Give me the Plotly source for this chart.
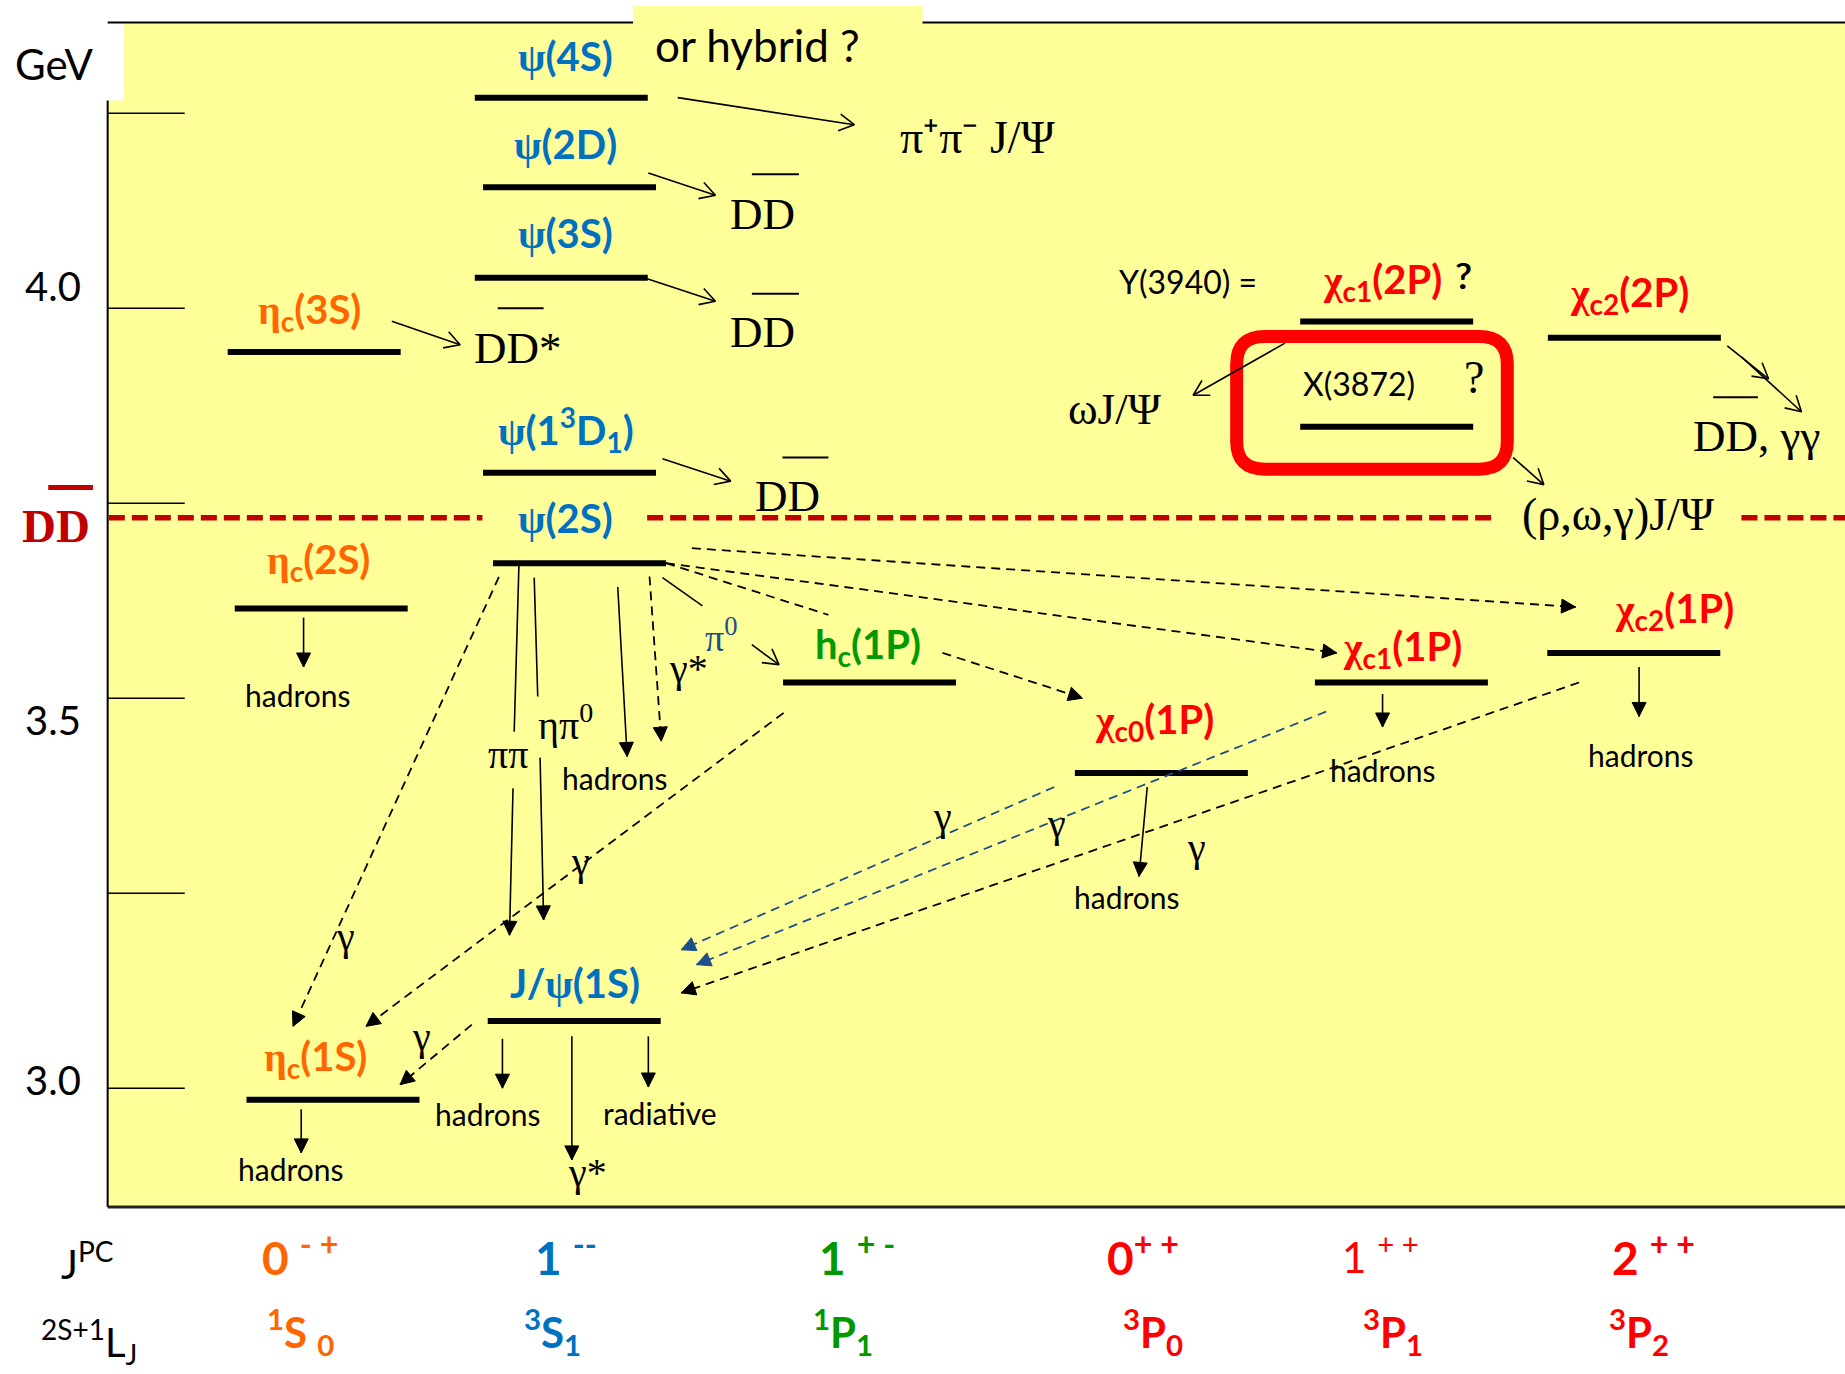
import math
import plotly.graph_objects as go

# ---------------------------------------------------------------------------
# Charmonium level data (masses in GeV, as placed in the level diagram)
# ---------------------------------------------------------------------------
STATES = ["ψ(4S)", "ψ(2D)", "ψ(3S)", "ηc(3S)", "ψ(1³D₁)", "ψ(2S)", "ηc(2S)",
          "hc(1P)", "χc0(1P)", "χc1(1P)", "χc2(1P)", "J/ψ(1S)", "ηc(1S)",
          "χc1(2P)", "X(3872)", "χc2(2P)"]
MASS_GEV = [4.270, 4.155, 4.039, 3.944, 3.789, 3.673, 3.615,
            3.520, 3.404, 3.520, 3.558, 3.086, 2.985,
            3.983, 3.848, 3.962]
DD_THRESHOLD_GEV = 3.7315
TICK_GEV = [4.25, 4.00, 3.75, 3.50, 3.25, 3.00]
TICK_TEXT = ["4.0", "3.5", "3.0"]
JPC_MAIN = ["0", "1", "1", "0", "1", "2"]
JPC_SUP = ["- +", "--", "+ -", "+ +", "+ +", "+ +"]
TERM_MULT = ["1", "3", "1", "3", "3", "3"]
TERM_L = ["S", "S", "P", "P", "P", "P"]
TERM_J = ["0", "1", "1", "0", "1", "2"]

# ---------------------------------------------------------------------------
# Styling / layout
# ---------------------------------------------------------------------------
W, H = 1845, 1374
X_RANGE = [0.0, 1568.0]
Y_RANGE = [2.6335, 4.3952]
SX = W / (X_RANGE[1] - X_RANGE[0])
SY = H / (Y_RANGE[1] - Y_RANGE[0])

YELLOW = "#FFFF99"
BLUE = "#0070C0"
ORANGE = "#FF6600"
GREEN = "#009A00"
RED = "#FF0000"
DARK_RED = "#C00000"
NAVY = "#1F4E8C"
SANS = "Lato, Open Sans, sans-serif"
SERIF = "Liberation Serif, Times New Roman, serif"

COLUMN_COLORS = [ORANGE, BLUE, GREEN, RED, RED, RED]
JPC_BOLD = [True, True, True, True, False, True]
JPC_LEFT_X = [221, 453, 694, 939, 1139, 1368]
TERM_LEFT_X = [225, 444, 689, 953, 1157, 1366]
JPC_ROW_GEV = 2.7873
TERM_ROW_GEV = 2.6878

BAR_HALF = 73.5
LEVEL_X = {"ψ(4S)": 477, "ψ(2D)": 484, "ψ(3S)": 477, "ηc(3S)": 267,
           "ψ(1³D₁)": 484, "ψ(2S)": 492.5, "ηc(2S)": 273, "hc(1P)": 739,
           "χc0(1P)": 987, "χc1(1P)": 1191, "χc2(1P)": 1388.5,
           "J/ψ(1S)": 488, "ηc(1S)": 283, "χc1(2P)": 1178.5,
           "X(3872)": 1178.5, "χc2(2P)": 1389}


def greek(ch):
    return f"<span style='font-family:Liberation Serif'>{ch}</span>"


# name label html, colour, (dx, dm) placement relative to the level bar
LABELS = {
    "ψ(4S)": (f"{greek('ψ')}(4S)", BLUE, 3.5, 0.0535),
    "ψ(2D)": (f"{greek('ψ')}(2D)", BLUE, -3.5, 0.055),
    "ψ(3S)": (f"{greek('ψ')}(3S)", BLUE, 4, 0.0573),
    "ηc(3S)": (f"{greek('η')}<sub>c</sub>(3S)", ORANGE, -4, 0.0513),
    "ψ(1³D₁)": (f"{greek('ψ')}(1<sup>3</sup>D<sub>1</sub>)", BLUE, -3, 0.0551),
    "ψ(2S)": (f"{greek('ψ')}(2S)", BLUE, -12, 0.058),
    "ηc(2S)": (f"{greek('η')}<sub>c</sub>(2S)", ORANGE, -2, 0.0603),
    "hc(1P)": ("h<sub>c</sub>(1P)", GREEN, -1.5, 0.046),
    "χc0(1P)": (f"{greek('χ')}<sub>c0</sub>(1P)", RED, -6, 0.0664),
    "χc1(1P)": (f"{greek('χ')}<sub>c1</sub>(1P)", RED, 1, 0.0437),
    "χc2(1P)": (f"{greek('χ')}<sub>c2</sub>(1P)", RED, 34.5, 0.0543),
    "J/ψ(1S)": (f"J/{greek('ψ')}(1S)", BLUE, 1, 0.0487),
    "ηc(1S)": (f"{greek('η')}<sub>c</sub>(1S)", ORANGE, -15, 0.0536),
    "χc1(2P)": (f"{greek('χ')}<sub>c1</sub>(2P)", RED, -3.5, 0.0517),
    "χc2(2P)": (f"{greek('χ')}<sub>c2</sub>(2P)", RED, -4, 0.055),
}

# decay / transition arrows: (x0, m0, x1, m1, kind)
DECAYS = [
    # open-headed decays above threshold
    (576, 4.2700, 726, 4.2353, "open"),
    (551, 4.1735, 608, 4.1448, "open"),
    (550, 4.0377, 608, 4.0090, "open"),
    (333, 3.9834, 391, 3.9532, "open"),
    (563, 3.8069, 621, 3.7783, "open"),
    (1092, 3.9552, 1014, 3.8884, "open"),
    (1286, 3.8085, 1312, 3.7738, "open"),
    (1468, 3.9517, 1503, 3.9095, "open"),
    (1480, 3.9376, 1531, 3.8673, "open"),
    (639, 3.5686, 662, 3.5430, "open"),
    # bare line pieces
    (563, 3.6546, 597, 3.6184, "plain"),
    (441, 3.6697, 437, 3.4570, "plain"),
    (454, 3.6546, 457, 3.5023, "plain"),
    # solid arrows with filled heads
    (436, 3.3846, 433, 3.1961, "solid"),
    (459, 3.4238, 462, 3.2157, "solid"),
    (525, 3.6425, 533, 3.4253, "solid"),
    (258, 3.6033, 258, 3.5400, "solid"),
    (1175, 3.5053, 1175, 3.4631, "solid"),
    (1393, 3.5400, 1393, 3.4766, "solid"),
    (975, 3.3861, 968, 3.2715, "solid"),
    (427, 3.0633, 427, 3.0000, "solid"),
    (486, 3.0664, 486, 2.9080, "solid"),
    (551, 3.0664, 551, 3.0015, "solid"),
    (256, 2.9729, 256, 2.9170, "solid"),
    # radiative (dashed) transitions
    (552, 3.6561, 562, 3.4449, "dash"),
    (424, 3.6554, 249, 3.0792, "dash"),
    (666, 3.4812, 311, 3.0792, "dash"),
    (401, 3.0815, 340, 3.0045, "dash"),
    (566, 3.6732, 1136, 3.5581, "dash"),
    (588, 3.6923, 1339, 3.6169, "dash"),
    (801, 3.5581, 920, 3.5000, "dash"),
    (1342, 3.5201, 579, 3.1222, "dash"),
    (566, 3.6732, 704, 3.6068, "dash_plain"),
    (896, 3.3861, 579, 3.1774, "blue"),
    (1127, 3.4827, 592, 3.1584, "blue"),
]

# free text: (html, x, m, size, colour, family)
TEXTS = [
    ("or hybrid ?", 644, 4.3379, 44, "black", SANS),
    ("π⁺π⁻ J/Ψ", 831, 4.2190, 46, "black", SERIF),
    ("DD", 648, 4.1207, 45, "black", SERIF),
    ("DD", 648, 3.9698, 45, "black", SERIF),
    ("DD*", 440, 3.9487, 45, "black", SERIF),
    ("DD", 669, 3.7594, 45, "black", SERIF),
    ("ωJ/Ψ", 948, 3.8710, 45, "black", SERIF),
    ("DD, γγ", 1493, 3.8356, 45, "black", SERIF),
    ("(ρ,ω,γ)J/Ψ", 1375, 3.7360, 46, "black", SERIF),
    ("Y(3940) =", 1010, 4.0339, 32, "black", SANS),
    ("?", 1243, 4.0422, 36, "black", SANS),
    ("X(3872)", 1155, 3.9041, 32, "black", SANS),
    ("?", 1253, 3.9115, 46, "black", SERIF),
    ("hadrons", 253.5, 3.5038, 30, "black", SANS),
    ("hadrons", 523, 3.3982, 30, "black", SANS),
    ("hadrons", 1175, 3.4080, 30, "black", SANS),
    ("hadrons", 1395, 3.4274, 30, "black", SANS),
    ("hadrons", 957.5, 3.2449, 30, "black", SANS),
    ("hadrons", 415, 2.9671, 30, "black", SANS),
    ("hadrons", 247, 2.8966, 30, "black", SANS),
    ("radiative", 560.5, 2.9683, 30, "black", SANS),
    ("γ*", 499, 2.8922, 40, "black", SERIF),
    ("γ*", 585, 3.5380, 40, "black", SERIF),
    ("ππ", 431.5, 3.4276, 40, "black", SERIF),
    ("ηπ<sup>0</sup>", 481, 3.4691, 40, "black", SERIF),
    ("π<sup>0</sup>", 613, 3.5807, 38, NAVY, SERIF),
    ("γ", 294, 3.1946, 40, "black", SERIF),
    ("γ", 493, 3.2911, 40, "black", SERIF),
    ("γ", 358, 3.0664, 40, "black", SERIF),
    ("γ", 801, 3.3484, 40, "black", SERIF),
    ("γ", 897.5, 3.3394, 40, "black", SERIF),
    ("γ", 1017, 3.3092, 40, "black", SERIF),
    ("GeV", 45.5, 4.3137, 42, "black", SANS),
    ("<b>DD</b>", 47.5, 3.7210, 47, DARK_RED, SERIF),
]

# bars drawn over the anti-D in "DD̄": (x0, x1, m, colour, width)
OVERBARS = [
    (639, 679, 4.1719, "black", 2),
    (639, 679, 4.0187, "black", 2),
    (423, 462, 4.0000, "black", 2),
    (665, 704, 3.8085, "black", 2),
    (1456, 1494, 3.8858, "black", 2),
    (41, 79, 3.7702, DARK_RED, 5),
]
TICK_TEXT_GEV = [4.0287, 3.4721, 3.0106]

FRAME_LEFT, FRAME_TOP, FRAME_BOTTOM = 91.5, 4.3665, 2.8477
GEV_BOX_BOTTOM = 4.2662

fig = go.Figure()

# ---------------------------------------------------------------------------
# Background panel, frame and axis ticks
# ---------------------------------------------------------------------------
shapes = [
    dict(type="rect", x0=FRAME_LEFT, x1=1600, y0=FRAME_BOTTOM, y1=FRAME_TOP,
         fillcolor=YELLOW, line_width=0, layer="below"),
    dict(type="rect", x0=538, x1=784, y0=4.350, y1=4.3876,
         fillcolor=YELLOW, line_width=0, layer="below"),
    dict(type="rect", x0=0, x1=105, y0=GEV_BOX_BOTTOM, y1=FRAME_TOP,
         fillcolor="white", line_width=0, layer="below"),
    dict(type="line", x0=FRAME_LEFT, x1=538, y0=FRAME_TOP, y1=FRAME_TOP,
         line=dict(color="black", width=2), layer="below"),
    dict(type="line", x0=784, x1=1600, y0=FRAME_TOP, y1=FRAME_TOP,
         line=dict(color="black", width=2), layer="below"),
    dict(type="line", x0=FRAME_LEFT, x1=FRAME_LEFT, y0=GEV_BOX_BOTTOM, y1=FRAME_BOTTOM,
         line=dict(color="black", width=2), layer="below"),
    dict(type="line", x0=FRAME_LEFT, x1=1600, y0=FRAME_BOTTOM, y1=FRAME_BOTTOM,
         line=dict(color="#222222", width=3), layer="below"),
]
for t in TICK_GEV:
    shapes.append(dict(type="line", x0=FRAME_LEFT, x1=157, y0=t, y1=t,
                       line=dict(color="black", width=1.5), layer="below"))

# rounded red frame around X(3872)
xc = LEVEL_X["X(3872)"]
mx = MASS_GEV[STATES.index("X(3872)")]
bx0, bx1 = xc - 127.5, xc + 102.5
by0, by1 = mx - 0.0543, mx + 0.1158
rx, ry = 28 / SX, 28 / SY
box_path = (f"M {bx0 + rx},{by1} L {bx1 - rx},{by1} Q {bx1},{by1} {bx1},{by1 - ry} "
            f"L {bx1},{by0 + ry} Q {bx1},{by0} {bx1 - rx},{by0} "
            f"L {bx0 + rx},{by0} Q {bx0},{by0} {bx0},{by0 + ry} "
            f"L {bx0},{by1 - ry} Q {bx0},{by1} {bx0 + rx},{by1} Z")
shapes.append(dict(type="path", path=box_path, line=dict(color=RED, width=13),
                   fillcolor="rgba(0,0,0,0)", layer="below"))

for s in shapes:
    s.setdefault("xref", "x")
    s.setdefault("yref", "y")


def lines(xs, ys, color, width, dash="solid", fill=None):
    fig.add_trace(go.Scatter(x=xs, y=ys, mode="lines",
                             line=dict(color=color, width=width, dash=dash),
                             fill=fill, fillcolor=color if fill else None,
                             hoverinfo="skip", showlegend=False))


def head(store, x0, y0, x1, y1, length, half, closed):
    dx = (x1 - x0) * SX
    dy = (y1 - y0) * SY
    n = math.hypot(dx, dy)
    ux, uy = dx / n, dy / n
    lx = x1 + (-ux * length - uy * half) / SX
    ly = y1 + (-uy * length + ux * half) / SY
    rxx = x1 + (-ux * length + uy * half) / SX
    ryy = y1 + (-uy * length - ux * half) / SY
    xs = [lx, x1, rxx] + ([lx] if closed else []) + [None]
    ys = [ly, y1, ryy] + ([ly] if closed else []) + [None]
    store[0].extend(xs)
    store[1].extend(ys)


# D D-bar threshold
thr_x, thr_y = [], []
for a, b in [(FRAME_LEFT + 1, 410), (550, 1270), (1480, 1600)]:
    thr_x += [a, b, None]
    thr_y += [DD_THRESHOLD_GEV, DD_THRESHOLD_GEV, None]
lines(thr_x, thr_y, DARK_RED, 5.5, dash="16px,7px")

# energy levels
lev_x, lev_y = [], []
for name, m in zip(STATES, MASS_GEV):
    c = LEVEL_X[name]
    lev_x += [c - BAR_HALF, c + BAR_HALF, None]
    lev_y += [m, m, None]
lines(lev_x, lev_y, "black", 6)

# transitions
solid = ([], [])
dashed = ([], [])
blue = ([], [])
chevrons = ([], [])
heads_black = ([], [])
heads_blue = ([], [])
for x0, m0, x1, m1, kind in DECAYS:
    if kind in ("open", "plain", "solid"):
        target = solid
    elif kind in ("dash", "dash_plain"):
        target = dashed
    else:
        target = blue
    target[0].extend([x0, x1, None])
    target[1].extend([m0, m1, None])
    if kind == "open":
        head(chevrons, x0, m0, x1, m1, 15, 8.5, False)
    elif kind in ("solid", "dash"):
        head(heads_black, x0, m0, x1, m1, 14, 7, True)
    elif kind == "blue":
        head(heads_blue, x0, m0, x1, m1, 14, 7, True)

lines(*solid, "black", 1.6)
lines(*dashed, "black", 1.8, dash="9px,6px")
lines(*blue, NAVY, 1.8, dash="9px,6px")
lines(*chevrons, "black", 1.6)
lines(*heads_black, "black", 1, fill="toself")
lines(*heads_blue, NAVY, 1, fill="toself")

# bars over anti-D symbols
for x0, x1, m, col, w in OVERBARS:
    lines([x0, x1], [m, m], col, w)

# ---------------------------------------------------------------------------
# Text
# ---------------------------------------------------------------------------
ann = []
for name, m in zip(STATES, MASS_GEV):
    if name not in LABELS:
        continue
    html, col, dx, dm = LABELS[name]
    ann.append(dict(x=LEVEL_X[name] + dx, y=m + dm, text=f"<b>{html}</b>",
                    font=dict(family=SANS, size=40, color=col)))
ann.append(dict(x=LEVEL_X["χc1(2P)"] + 66, y=4.0422, text="?",
                font=dict(family=SANS, size=36, color="black")))

for html, x, m, size, col, fam in TEXTS:
    ann.append(dict(x=x, y=m, text=html, font=dict(family=fam, size=size, color=col)))

for txt, m in zip(TICK_TEXT, TICK_TEXT_GEV):
    ann.append(dict(x=45, y=m, text=txt, font=dict(family=SANS, size=40, color="black")))

for i in range(6):
    main = JPC_MAIN[i]
    sup = JPC_SUP[i]
    body = f"{main} <sup>{sup}</sup>" if i != 3 else f"{main}<sup>{sup}</sup>"
    if JPC_BOLD[i]:
        body = f"<b>{body}</b>"
    ann.append(dict(x=JPC_LEFT_X[i], y=JPC_ROW_GEV, text=body, xanchor="left",
                    font=dict(family=SANS, size=46 if JPC_BOLD[i] else 42,
                              color=COLUMN_COLORS[i])))
    gap = " " if i == 0 else ""
    term = f"<b><sup>{TERM_MULT[i]}</sup>{TERM_L[i]}{gap}<sub>{TERM_J[i]}</sub></b>"
    ann.append(dict(x=TERM_LEFT_X[i], y=TERM_ROW_GEV, text=term, xanchor="left",
                    font=dict(family=SANS, size=42, color=COLUMN_COLORS[i])))

ann.append(dict(x=50, y=2.7783, text="J<sup>PC</sup>", xanchor="left",
                font=dict(family=SANS, size=40, color="black")))
ann.append(dict(x=33, y=2.6757, text="<sup>2S+1</sup>L<sub>J</sub>", xanchor="left",
                font=dict(family=SANS, size=40, color="black")))

for a in ann:
    a.setdefault("xanchor", "center")
    a.update(xref="x", yref="y", yanchor="middle", showarrow=False)

fig.update_layout(
    width=W, height=H, autosize=False,
    margin=dict(l=0, r=0, t=0, b=0, pad=0),
    paper_bgcolor="white", plot_bgcolor="white",
    showlegend=False,
    xaxis=dict(range=X_RANGE, visible=False, fixedrange=True),
    yaxis=dict(range=Y_RANGE, visible=False, fixedrange=True),
    shapes=shapes, annotations=ann,
)

fig.write_html("out.html", config={"displayModeBar": False})
